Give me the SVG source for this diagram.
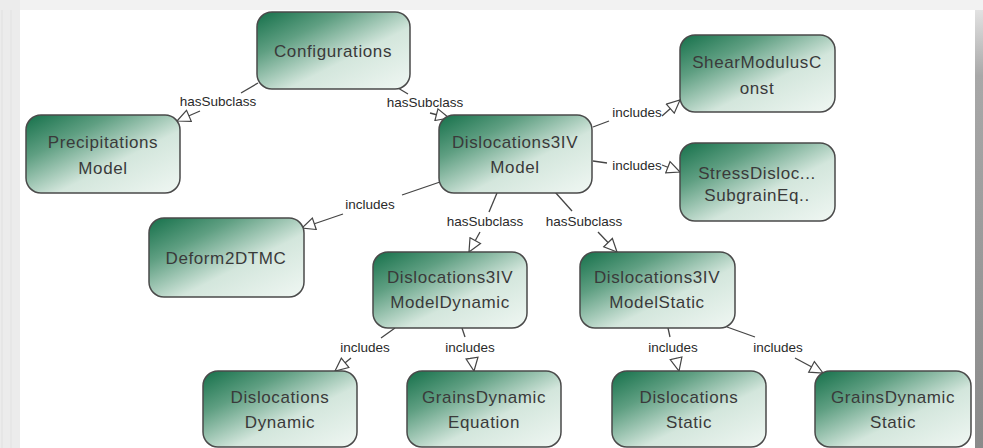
<svg xmlns="http://www.w3.org/2000/svg" width="983" height="448" viewBox="0 0 983 448">
<style>
.node rect{stroke:#4a4a4a;stroke-width:1.5;fill:url(#g)}
.node text{font-family:"Liberation Sans","Open Sans",sans-serif;font-size:17px;letter-spacing:0.6px;fill:#3a3a3a;text-anchor:middle}
.lbl{font-family:"Liberation Sans","Open Sans",sans-serif;font-size:13.5px;fill:#2a2a2a;text-anchor:middle}
#edges line{stroke:#454545;stroke-width:1.3}
#edges line.a{marker-end:url(#tri)}
</style>
<defs>
<linearGradient id="g" x1="0" y1="0" x2="1" y2="1">
<stop offset="0" stop-color="#15704a"/>
<stop offset="0.28" stop-color="#5f9f82"/>
<stop offset="0.6" stop-color="#d3e6dc"/>
<stop offset="1" stop-color="#f0f7f3"/>
</linearGradient>
<linearGradient id="rs" x1="0" y1="0" x2="0" y2="1">
<stop offset="0" stop-color="#e2e2e2"/>
<stop offset="0.15" stop-color="#a8a8a8"/>
<stop offset="1" stop-color="#8a8a8a"/>
</linearGradient>
<marker id="tri" markerWidth="16" markerHeight="14" refX="14" refY="7" orient="auto" markerUnits="userSpaceOnUse">
<path d="M1,1 L14,7 L1,13 Z" fill="#ffffff" stroke="#454545" stroke-width="1.2"/>
</marker>
</defs>
<rect x="0" y="0" width="983" height="448" fill="#ffffff"/>
<rect x="0" y="0" width="983" height="10" fill="#f2f2f2"/>
<rect x="0" y="0" width="20" height="448" fill="#ececec"/>
<line x1="11" y1="10" x2="11" y2="448" stroke="#e2e2e2"/>
<line x1="2" y1="10" x2="2" y2="448" stroke="#e0e0e0"/>
<rect x="975" y="10" width="8" height="438" fill="url(#rs)"/>

<g id="edges">
<line x1="258" y1="83" x2="241" y2="93"/><line class="a" x1="200" y1="111" x2="177" y2="121"/>
<text class="lbl" x="218" y="106">hasSubclass</text>
<line x1="398" y1="88" x2="408" y2="94"/><line class="a" x1="430" y1="113" x2="449" y2="118"/>
<text class="lbl" x="425" y="107">hasSubclass</text>
<line x1="440" y1="182" x2="402" y2="195"/><line class="a" x1="343" y1="214" x2="302" y2="228"/>
<text class="lbl" x="370" y="209">includes</text>
<line x1="593" y1="127" x2="609" y2="121"/><line class="a" x1="662" y1="116" x2="680" y2="100"/>
<text class="lbl" x="637" y="117">includes</text>
<line x1="593" y1="161" x2="607" y2="163"/><line class="a" x1="662" y1="165" x2="680" y2="172"/>
<text class="lbl" x="637" y="170">includes</text>
<line x1="497" y1="193" x2="489" y2="212"/><line class="a" x1="480" y1="232" x2="469" y2="252"/>
<text class="lbl" x="485" y="226">hasSubclass</text>
<line x1="555" y1="192" x2="572" y2="211"/><line class="a" x1="598" y1="232" x2="617" y2="252"/>
<text class="lbl" x="584" y="226">hasSubclass</text>
<line x1="395" y1="328" x2="381" y2="338"/><line class="a" x1="351" y1="358" x2="335" y2="371"/>
<text class="lbl" x="365" y="352">includes</text>
<line x1="462" y1="328" x2="465" y2="337"/><line class="a" x1="472" y1="358" x2="474" y2="371"/>
<text class="lbl" x="470" y="352">includes</text>
<line x1="668" y1="328" x2="670" y2="337"/><line class="a" x1="676" y1="358" x2="679" y2="371"/>
<text class="lbl" x="673" y="352">includes</text>
<line x1="727" y1="327" x2="755" y2="337"/><line class="a" x1="795" y1="358" x2="823" y2="373"/>
<text class="lbl" x="778" y="352">includes</text>
</g>

<g id="configurations" class="node"><rect x="257" y="12" width="153" height="77" rx="15"/><text x="333" y="57">Configurations</text></g>
<g id="precipitations" class="node"><rect x="26" y="115" width="154" height="78" rx="15"/><text x="103" y="148">Precipitations</text><text x="103" y="174">Model</text></g>
<g id="disl3ivmodel" class="node"><rect x="439" y="115" width="153" height="78" rx="15"/><text x="515" y="148">Dislocations3IV</text><text x="515" y="173">Model</text></g>
<g id="shearmodulus" class="node"><rect x="680" y="35" width="155" height="77" rx="15"/><text x="757" y="68">ShearModulusC</text><text x="757" y="94">onst</text></g>
<g id="stressdisloc" class="node"><rect x="680" y="143" width="155" height="78" rx="15"/><text x="757" y="179">StressDisloc...</text><text x="757" y="201">SubgrainEq..</text></g>
<g id="deform2dtmc" class="node"><rect x="149" y="218" width="155" height="79" rx="15"/><text x="226" y="264">Deform2DTMC</text></g>
<g id="modeldynamic" class="node"><rect x="373" y="252" width="154" height="76" rx="15"/><text x="450" y="283">Dislocations3IV</text><text x="450" y="308">ModelDynamic</text></g>
<g id="modelstatic" class="node"><rect x="580" y="252" width="155" height="76" rx="15"/><text x="657" y="283">Dislocations3IV</text><text x="657" y="308">ModelStatic</text></g>
<g id="dislocationsdynamic" class="node"><rect x="203" y="371" width="154" height="76" rx="15"/><text x="280" y="403">Dislocations</text><text x="280" y="428">Dynamic</text></g>
<g id="grainsdynamicequation" class="node"><rect x="407" y="371" width="154" height="76" rx="15"/><text x="484" y="403">GrainsDynamic</text><text x="484" y="428">Equation</text></g>
<g id="dislocationsstatic" class="node"><rect x="612" y="371" width="154" height="76" rx="15"/><text x="689" y="403">Dislocations</text><text x="689" y="428">Static</text></g>
<g id="grainsdynamicstatic" class="node"><rect x="815" y="371" width="156" height="76" rx="15"/><text x="893" y="403">GrainsDynamic</text><text x="893" y="428">Static</text></g>
</svg>
